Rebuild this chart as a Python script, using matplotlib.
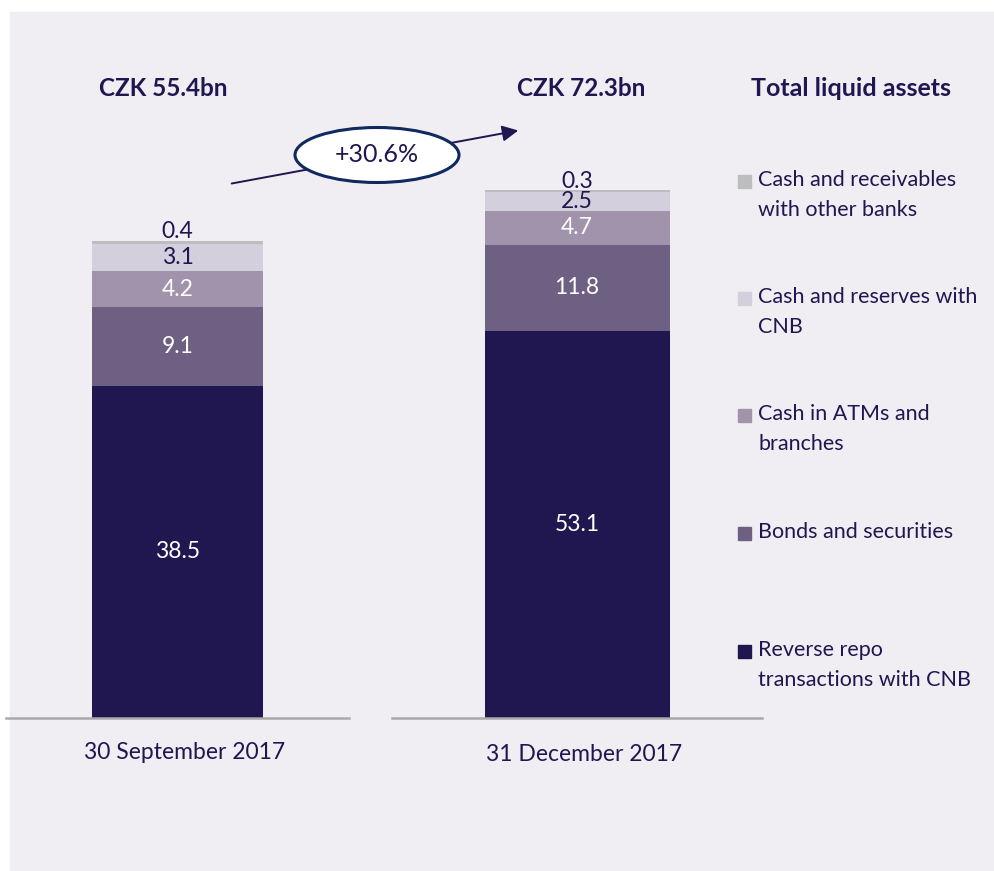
import matplotlib.pyplot as plt
from matplotlib.patches import Rectangle, Ellipse, FancyArrowPatch

plt.rcParams['font.family'] = ['Lato', 'DejaVu Sans']

# data
categories = ['Reverse repo\ntransactions with CNB', 'Bonds and securities',
              'Cash in ATMs and\nbranches', 'Cash and reserves with\nCNB',
              'Cash and receivables\nwith other banks']
sep_2017 = [38.5, 9.1, 4.2, 3.1, 0.4]
dec_2017 = [53.1, 11.8, 4.7, 2.5, 0.3]
dates = ['30 September 2017', '31 December 2017']
totals = ['CZK 55.4bn', 'CZK 72.3bn']
growth = '+30.6%'
legend_title = 'Total liquid assets'

COLORS = ['#201650', '#6e6082', '#a193ab', '#d4cfdc', '#bdbdc0']
TXT = ['white', 'white', 'white', '#201650', '#201650']
NAVY = '#201650'
BG = '#f0eef2'

W, H = 994, 871
def fx(x):
    return x / W
def fy(y):
    return 1 - y / H

fig = plt.figure(figsize=(W / 100, H / 100), dpi=100)
fig.patches.append(Rectangle((fx(10), 0), 1 - fx(10), fy(12), transform=fig.transFigure,
                             color=BG, zorder=-10))

# each bar on its own scale (px per unit), as in the original
px_per_unit = [8.63, 7.29]
ax_spans = [(6, 349), (392, 762)]
base_y, top_y = 718, 150

for i, vals in enumerate([sep_2017, dec_2017]):
    x0, x1 = ax_spans[i]
    ax = fig.add_axes([fx(x0), fy(base_y), (x1 - x0) / W, (base_y - top_y) / H])
    ax.patch.set_alpha(0)
    ax.set_xlim(-0.5, 0.5)
    ax.set_ylim(0, (base_y - top_y) / px_per_unit[i])
    bottom = 0
    for j, v in enumerate(vals):
        ax.bar(0, v, bottom=bottom, width=0.5, color=COLORS[j], zorder=2)
        if j < len(vals) - 1:
            ax.text(0, bottom + v / 2, f'{v:.1f}', ha='center', va='center',
                    color=TXT[j], fontsize=16.5, zorder=3)
        else:
            ax.annotate(f'{v:.1f}', (0, bottom + v), xytext=(0, 9), textcoords='offset pixels',
                        ha='center', va='center', color=TXT[j], fontsize=16.5, zorder=3)
        bottom += v
    for s in ['top', 'left', 'right']:
        ax.spines[s].set_visible(False)
    ax.spines['bottom'].set_color('#a9a8ab')
    ax.spines['bottom'].set_linewidth(1.8)
    ax.set_yticks([])
    ax.set_xticks([0.02], [dates[i]])
    ax.tick_params(axis='x', length=0, pad=17 if i == 0 else 19, labelsize=16.5, labelcolor=NAVY)

# totals on top
fig.text(fx(163), fy(89), totals[0], ha='center', va='center', fontsize=17.5,
         fontweight='bold', color=NAVY)
fig.text(fx(581), fy(89), totals[1], ha='center', va='center', fontsize=17.5,
         fontweight='bold', color=NAVY)
fig.text(fx(751), fy(89), legend_title, ha='left', va='center', fontsize=18,
         fontweight='bold', color=NAVY)

# growth arrow with ellipse
fig.add_artist(FancyArrowPatch((fx(229), fy(184)), (fx(521), fy(130)), transform=fig.transFigure,
                               arrowstyle='-|>', mutation_scale=24, lw=1.4, color=NAVY))
fig.add_artist(Ellipse((fx(377), fy(155)), 164 / W, 55 / H, transform=fig.transFigure,
                       fc='white', ec='#102a60', lw=2.2))
fig.text(fx(377), fy(155), growth, ha='center', va='center', fontsize=18, color=NAVY)

# legend, top entry first
legend_y = [180, 297, 414, 532, 650]
for k, y in enumerate(legend_y):
    j = len(categories) - 1 - k
    fig.patches.append(Rectangle((fx(738), fy(y + 8)), 13 / W, 13 / H, transform=fig.transFigure,
                                 color=COLORS[j]))
    for n, line in enumerate(categories[j].split('\n')):
        fig.text(fx(758), fy(y + 30 * n), line, ha='left', va='center', fontsize=15.5, color=NAVY)

fig.savefig('out.png', dpi=100, facecolor='white')
